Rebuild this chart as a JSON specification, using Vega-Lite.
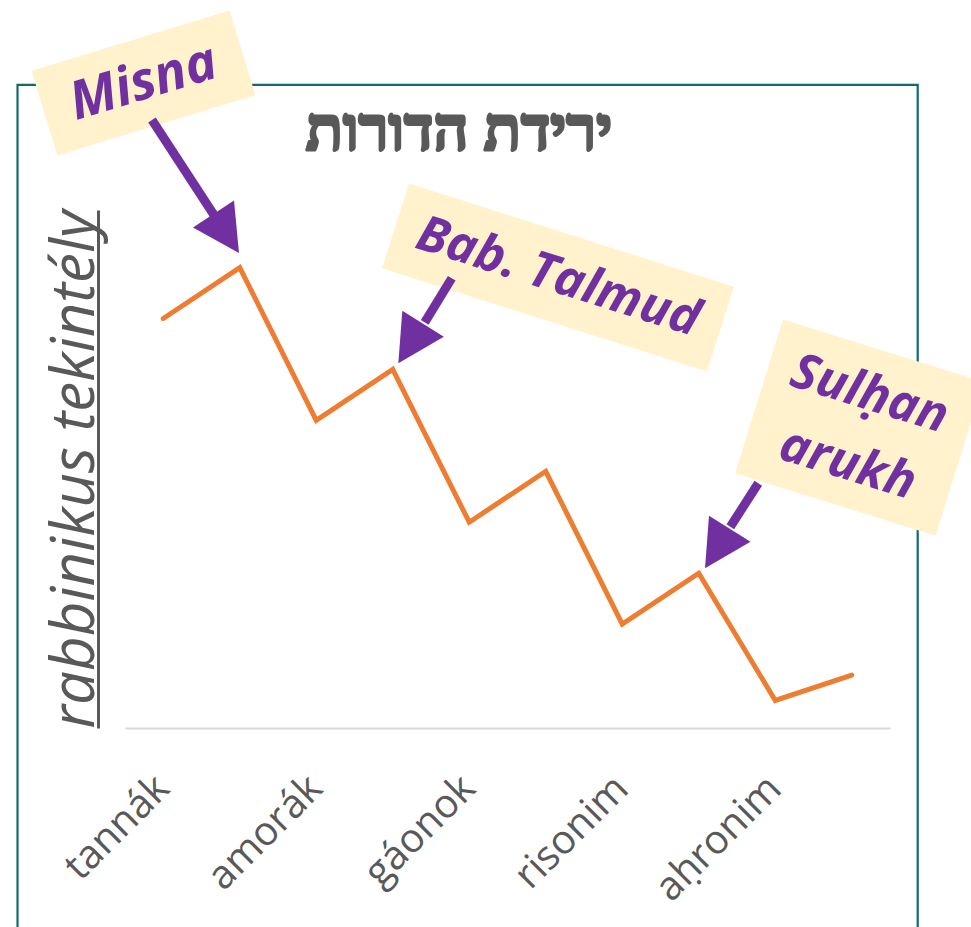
{
  "$schema": "https://vega.github.io/schema/vega-lite/v6.json",
  "width": 765,
  "height": 518,
  "autosize": "none",
  "padding": {"left": 125, "top": 210, "right": 81, "bottom": 199},
  "background": "white",
  "config": {"view": {"stroke": null}, "font": "Open Sans"},
  "encoding": {
    "x": {
      "field": "x",
      "type": "quantitative",
      "scale": {"domain": [0, 10], "nice": false, "zero": false},
      "axis": {
        "title": null,
        "values": [1, 3, 5, 7, 9],
        "labelExpr": "datum.value == 1 ? 'tannák' : datum.value == 3 ? 'amorák' : datum.value == 5 ? 'gáonok' : datum.value == 7 ? 'risonim' : 'aḥronim'",
        "labelAngle": -45,
        "labelAlign": "right",
        "labelBaseline": "middle",
        "labelFont": "Open Sans",
        "labelFontSize": 40,
        "labelColor": "#595959",
        "labelPadding": 54,
        "labelOffset": -39,
        "labelFlush": false,
        "labelOverlap": false,
        "labelBound": false,
        "ticks": false,
        "grid": false,
        "domainColor": "#D9D9D9",
        "domainWidth": 2
      }
    },
    "y": {
      "field": "y",
      "type": "quantitative",
      "scale": {"domain": [-0.04, 10.13], "nice": false, "zero": false},
      "axis": {
        "title": "rabbinikus tekintély",
        "labels": false,
        "ticks": false,
        "grid": false,
        "domainColor": "#595959",
        "domainWidth": 3,
        "offset": 27,
        "titleFont": "Open Sans",
        "titleFontStyle": "italic",
        "titleFontWeight": "normal",
        "titleFontSize": 60,
        "titleColor": "#595959",
        "titlePadding": 5,
        "titleBaseline": "alphabetic"
      }
    }
  },
  "layer": [
    {
      "data": {"values": [{"x": -1.405, "x2": 10.362, "y": 12.585, "y2": -4.2}]},
      "mark": {"type": "rect", "filled": false, "stroke": "#0F6B6B", "strokeWidth": 2.2},
      "encoding": {"x2": {"field": "x2"}, "y2": {"field": "y2"}}
    },
    {
      "data": {"values": [{"x": 4.366, "y": 11.309, "label": "ירידת הדורות"}]},
      "mark": {"type": "text", "align": "center", "baseline": "alphabetic", "font": "Liberation Serif", "fontSize": 61, "fontWeight": "bold", "color": "#595959", "stroke": "#595959", "strokeWidth": 3, "strokeJoin": "round"},
      "encoding": {"text": {"field": "label"}}
    },
    {
      "data": {"values": [
        {"x": 0.5, "y": 8}, {"x": 1.5, "y": 9}, {"x": 2.5, "y": 6}, {"x": 3.5, "y": 7},
        {"x": 4.5, "y": 4}, {"x": 5.5, "y": 5}, {"x": 6.5, "y": 2}, {"x": 7.5, "y": 3},
        {"x": 8.5, "y": 0.5}, {"x": 9.5, "y": 1}
      ]},
      "mark": {"type": "line", "color": "#ED7D31", "strokeWidth": 5, "strokeCap": "round", "strokeJoin": "miter"}
    },
    {
      "data": {"values": [{"x": 0.242, "y": 12.624}]},
      "mark": {"type": "point", "shape": "M-1,-0.428H1V0.428H-1Z", "size": 42849, "angle": -16.9, "filled": true, "fill": "#FFF2CC", "strokeWidth": 0, "opacity": 1}
    },
    {
      "data": {"values": [{"x": 5.66, "y": 8.805}]},
      "mark": {"type": "point", "shape": "M-1,-0.261H1V0.261H-1Z", "size": 116281, "angle": 17.65, "filled": true, "fill": "#FFF2CC", "strokeWidth": 0, "opacity": 1}
    },
    {
      "data": {"values": [{"x": 9.599, "y": 5.856}]},
      "mark": {"type": "point", "shape": "M-1,-0.767H1V0.767H-1Z", "size": 44100, "angle": 17.3, "filled": true, "fill": "#FFF2CC", "strokeWidth": 0, "opacity": 1}
    },
    {
      "data": {"values": [
        {"x": 0.353, "y": 11.898, "x2": 1.163, "y2": 10.033},
        {"x": 4.271, "y": 8.79, "x2": 3.918, "y2": 7.922},
        {"x": 8.278, "y": 4.765, "x2": 7.913, "y2": 3.912}
      ]},
      "mark": {"type": "rule", "color": "#7030A0", "strokeWidth": 9},
      "encoding": {"x2": {"field": "x2"}, "y2": {"field": "y2"}}
    },
    {
      "data": {"values": [{"x": 1.49, "y": 9.287}]},
      "mark": {"type": "point", "shape": "M0,0L-1,-1.9L1,-1.9Z", "size": 2401, "angle": -33.2, "filled": true, "fill": "#7030A0", "strokeWidth": 0, "opacity": 1}
    },
    {
      "data": {"values": [{"x": 3.573, "y": 7.121}, {"x": 7.582, "y": 3.096}]},
      "mark": {"type": "point", "shape": "M0,0L-1,-1.9L1,-1.9Z", "size": 2401, "angle": 32.1, "filled": true, "fill": "#7030A0", "strokeWidth": 0, "opacity": 1}
    },
    {
      "data": {"values": [{"x": 0.242, "y": 12.624, "label": "Misna"}]},
      "mark": {"type": "text", "angle": -16.9, "align": "center", "baseline": "middle", "font": "Open Sans", "fontSize": 53, "fontWeight": "bold", "fontStyle": "italic", "color": "#7030A0"},
      "encoding": {"text": {"field": "label"}}
    },
    {
      "data": {"values": [{"x": 5.66, "y": 8.805, "label": "Bab. Talmud"}]},
      "mark": {"type": "text", "angle": 17.65, "align": "center", "baseline": "middle", "font": "Open Sans", "fontSize": 50, "fontWeight": "bold", "fontStyle": "italic", "color": "#7030A0"},
      "encoding": {"text": {"field": "label"}}
    },
    {
      "data": {"values": [{"x": 9.729, "y": 6.504, "label": ["Sulḥan", "arukh"]}]},
      "mark": {"type": "text", "angle": 17.3, "align": "center", "baseline": "middle", "lineHeight": 73, "font": "Open Sans", "fontSize": 50, "fontWeight": "bold", "fontStyle": "italic", "color": "#7030A0"},
      "encoding": {"text": {"field": "label"}}
    }
  ]
}
